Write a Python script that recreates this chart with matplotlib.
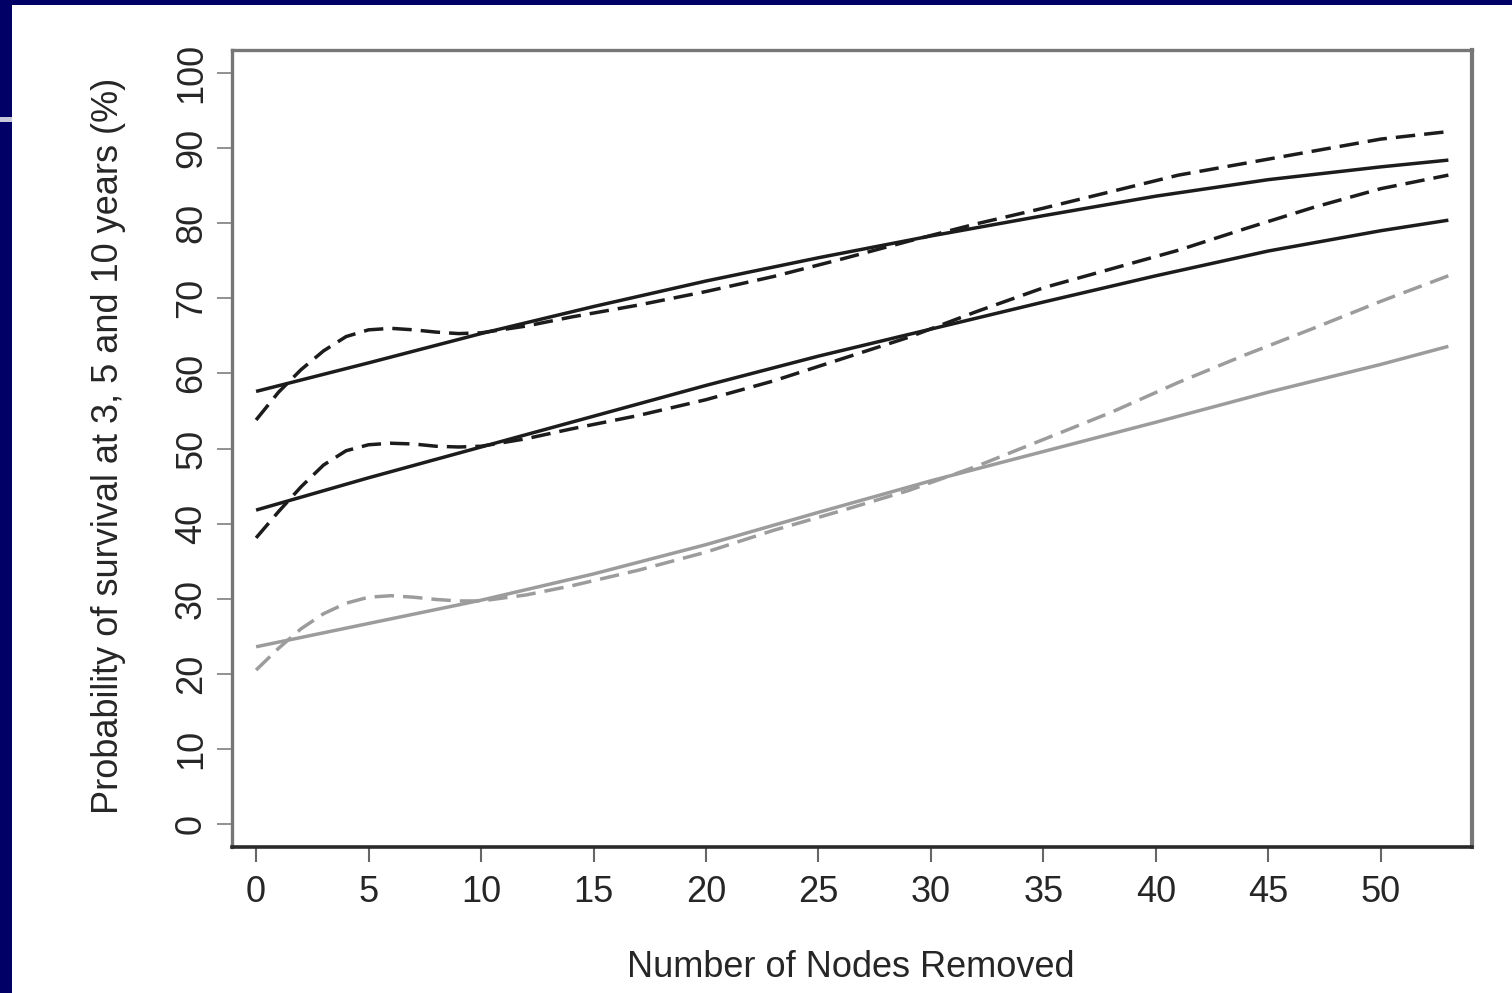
import matplotlib
matplotlib.use("Agg")
import matplotlib.pyplot as plt
from matplotlib.patches import Rectangle

# ---- data ----
solid_x = [0, 5, 10, 15, 20, 25, 30, 35, 40, 45, 50, 53]
top_solid = [57.6, 61.4, 65.3, 68.9, 72.3, 75.4, 78.3, 81.0, 83.6, 85.8, 87.5, 88.4]
mid_solid = [41.8, 46.1, 50.2, 54.3, 58.4, 62.3, 65.9, 69.5, 73.0, 76.3, 79.0, 80.4]
low_solid = [23.6, 26.7, 29.8, 33.3, 37.2, 41.5, 45.7, 49.6, 53.5, 57.5, 61.2, 63.6]

dash_x = [0, 1, 2, 3, 4, 5, 6, 7, 8, 9, 10, 12, 14, 17, 20, 23, 26, 29, 32, 35, 38, 41, 44, 47, 50, 53]
top_dash = [53.8, 57.5, 60.5, 63.0, 64.9, 65.8, 66.0, 65.8, 65.5, 65.3, 65.4, 66.3, 67.5,
            69.1, 70.9, 72.9, 75.2, 77.6, 79.9, 82.0, 84.2, 86.4, 88.0, 89.6, 91.2, 92.2]
mid_dash = [38.1, 41.6, 44.9, 47.8, 49.7, 50.5, 50.7, 50.6, 50.3, 50.2, 50.3, 51.3, 52.6,
            54.4, 56.5, 59.0, 61.9, 64.8, 68.2, 71.4, 73.9, 76.4, 79.3, 82.1, 84.6, 86.4]
low_dash = [20.5, 23.4, 26.0, 28.0, 29.4, 30.2, 30.4, 30.2, 29.9, 29.7, 29.7, 30.5, 31.7,
            33.8, 36.2, 39.1, 41.7, 44.4, 47.6, 51.2, 54.8, 58.8, 62.5, 66.0, 69.6, 73.0]

x_ticks = [0, 5, 10, 15, 20, 25, 30, 35, 40, 45, 50]
y_ticks = [0, 10, 20, 30, 40, 50, 60, 70, 80, 90, 100]
x_label = "Number of Nodes Removed"
y_label = "Probability of survival at 3, 5 and 10 years (%)"

# ---- figure ----
W, H = 1512, 993
fig = plt.figure(figsize=(W / 100, H / 100), dpi=100)
fig.patch.set_facecolor("white")
plt.rcParams["font.family"] = ["Liberation Sans", "DejaVu Sans"]

navy = "#000066"
fig.patches.append(Rectangle((0, 0), 12 / W, 1, transform=fig.transFigure,
                             facecolor=navy, edgecolor="none", zorder=0))
fig.patches.append(Rectangle((0, 1 - 5 / H), 1, 5 / H, transform=fig.transFigure,
                             facecolor=navy, edgecolor="none", zorder=0))
fig.patches.append(Rectangle((0, 1 - 122 / H), 12 / W, 5 / H, transform=fig.transFigure,
                             facecolor="#c8c8dc", edgecolor="none", zorder=1))

ax = fig.add_axes([232 / W, 1 - 847 / H, (1472 - 232) / W, (847 - 50) / H])
ax.set_xlim(-1.07, 54.05)
ax.set_ylim(-3.06, 103.06)

dark = "#1c1c1c"
grey = "#9c9c9c"
lw = 2.5
dash = (5.6, 2.6)

ax.plot(solid_x, top_solid, color=dark, lw=lw, solid_capstyle="butt")
ax.plot(dash_x, top_dash, color=dark, lw=lw, dashes=dash)
ax.plot(solid_x, mid_solid, color=dark, lw=lw, solid_capstyle="butt")
ax.plot(dash_x, mid_dash, color=dark, lw=lw, dashes=dash)
ax.plot(solid_x, low_solid, color=grey, lw=lw, solid_capstyle="butt")
ax.plot(dash_x, low_dash, color=grey, lw=lw, dashes=dash)

for side in ["left", "top", "right"]:
    ax.spines[side].set_color("#777777")
    ax.spines[side].set_linewidth(2.4)
ax.spines["right"].set_linewidth(3.0)
ax.spines["bottom"].set_color("#2a2a2a")
ax.spines["bottom"].set_linewidth(2.6)

txt = "#262626"
ax.set_xticks(x_ticks)
ax.set_yticks(y_ticks)
ax.set_xticklabels([str(v) for v in x_ticks])
ax.set_yticklabels([str(v) for v in y_ticks])
ax.tick_params(axis="x", direction="out", length=10.5, width=1.5, color="#666666",
               pad=10, labelsize=26, labelcolor=txt)
ax.tick_params(axis="y", direction="out", length=10.5, width=1.3, color="#888888",
               pad=6, labelsize=26, labelcolor=txt, labelrotation=90)
for lab in ax.get_yticklabels():
    lab.set_verticalalignment("center")

fig.text(851 / W, 1 - 977 / H, x_label, ha="center", va="baseline",
         fontsize=26, color=txt)
fig.text(118 / W, 1 - 446 / H, y_label, ha="center", va="baseline",
         rotation=90, rotation_mode="anchor", fontsize=26, color=txt)

fig.savefig("out.png", dpi=100, facecolor=fig.get_facecolor())
